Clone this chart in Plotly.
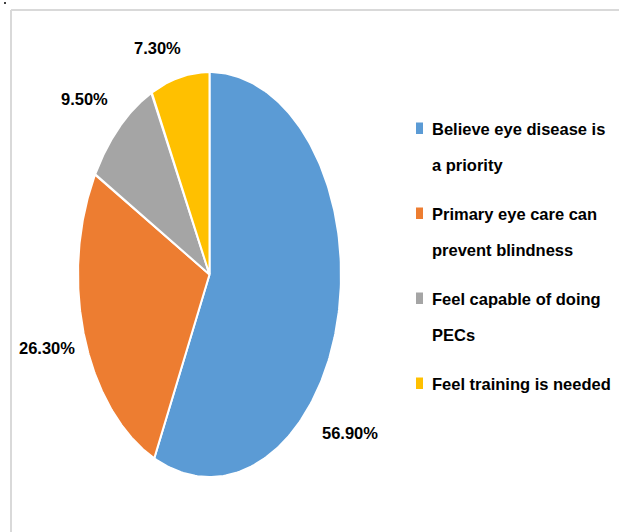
import numpy as np
import plotly.graph_objects as go

# ---- data ----
categories = [
    "Believe eye disease is a priority",
    "Primary eye care can prevent blindness",
    "Feel capable of doing PECs",
    "Feel training is needed",
]
legend_lines = [
    ["Believe eye disease is", "a priority"],
    ["Primary eye care can", "prevent blindness"],
    ["Feel capable of doing", "PECs"],
    ["Feel training is needed"],
]
values = [56.9, 26.3, 9.5, 7.3]
value_labels = ["56.90%", "26.30%", "9.50%", "7.30%"]
colors = ["#5B9BD5", "#ED7D31", "#A5A5A5", "#FFC000"]

# ---- layout geometry (pixels) ----
W, H = 619, 532
CX, CY, RX, RY = 209.5, 274.5, 131.5, 202.5
label_pos = [(349.5, 433), (46.5, 347.5), (84.5, 99), (157.5, 47.5)]
FONT = "Liberation Sans, Arial, sans-serif"
FS = 16.5

fig = go.Figure()

total = sum(values)
start = 0.0
for name, v, c in zip(categories, values, colors):
    a0 = start / total * 2 * np.pi
    a1 = (start + v) / total * 2 * np.pi
    th = np.linspace(a0, a1, 200)
    xs = np.concatenate([[CX], CX + RX * np.sin(th), [CX]])
    ys = np.concatenate([[CY], CY - RY * np.cos(th), [CY]])
    fig.add_trace(go.Scatter(
        x=xs, y=ys, mode="lines", fill="toself", fillcolor=c,
        line=dict(color="white", width=2), name=name,
        hoverinfo="name", showlegend=False,
    ))
    start += v

# data labels
for (lx, ly), t in zip(label_pos, value_labels):
    fig.add_annotation(x=lx, y=ly, text=f"<b>{t}</b>", showarrow=False,
                       xanchor="center", yanchor="middle",
                       font=dict(family=FONT, size=FS, color="#000000"))

# legend (manual, to reproduce line spacing)
LEG_TOP, ITEM_GAP, LINE_GAP = 128.5, 85, 36
MK_X0, MK_X1, TXT_X = 416, 423, 430
for i, (lines, c) in enumerate(zip(legend_lines, colors)):
    y0 = LEG_TOP + i * ITEM_GAP
    fig.add_shape(type="rect", xref="x", yref="y",
                  x0=MK_X0, x1=MK_X1, y0=y0 - 6, y1=y0 + 5.5,
                  fillcolor=c, line=dict(width=0))
    for j, ln in enumerate(lines):
        fig.add_annotation(x=TXT_X, y=y0 + j * LINE_GAP, text=f"<b>{ln}</b>",
                           showarrow=False, xanchor="left", yanchor="middle",
                           font=dict(family=FONT, size=FS, color="#000000"))

# frame lines and the small stray dot at top-left
fig.add_shape(type="line", xref="x", yref="y", x0=11, x1=W, y0=10, y1=10,
              line=dict(color="#D9D9D9", width=2))
fig.add_shape(type="line", xref="x", yref="y", x0=11, x1=11, y0=10, y1=H,
              line=dict(color="#D9D9D9", width=2))
fig.add_shape(type="circle", xref="x", yref="y", x0=4, x1=6, y0=2, y1=4,
              fillcolor="#000000", line=dict(width=0))

fig.update_xaxes(range=[0, W], visible=False, fixedrange=True)
fig.update_yaxes(range=[H, 0], visible=False, fixedrange=True)
fig.update_layout(
    width=W, height=H, margin=dict(l=0, r=0, t=0, b=0),
    plot_bgcolor="white", paper_bgcolor="white", showlegend=False,
)

fig.write_html("out.html", config={"displayModeBar": False})
